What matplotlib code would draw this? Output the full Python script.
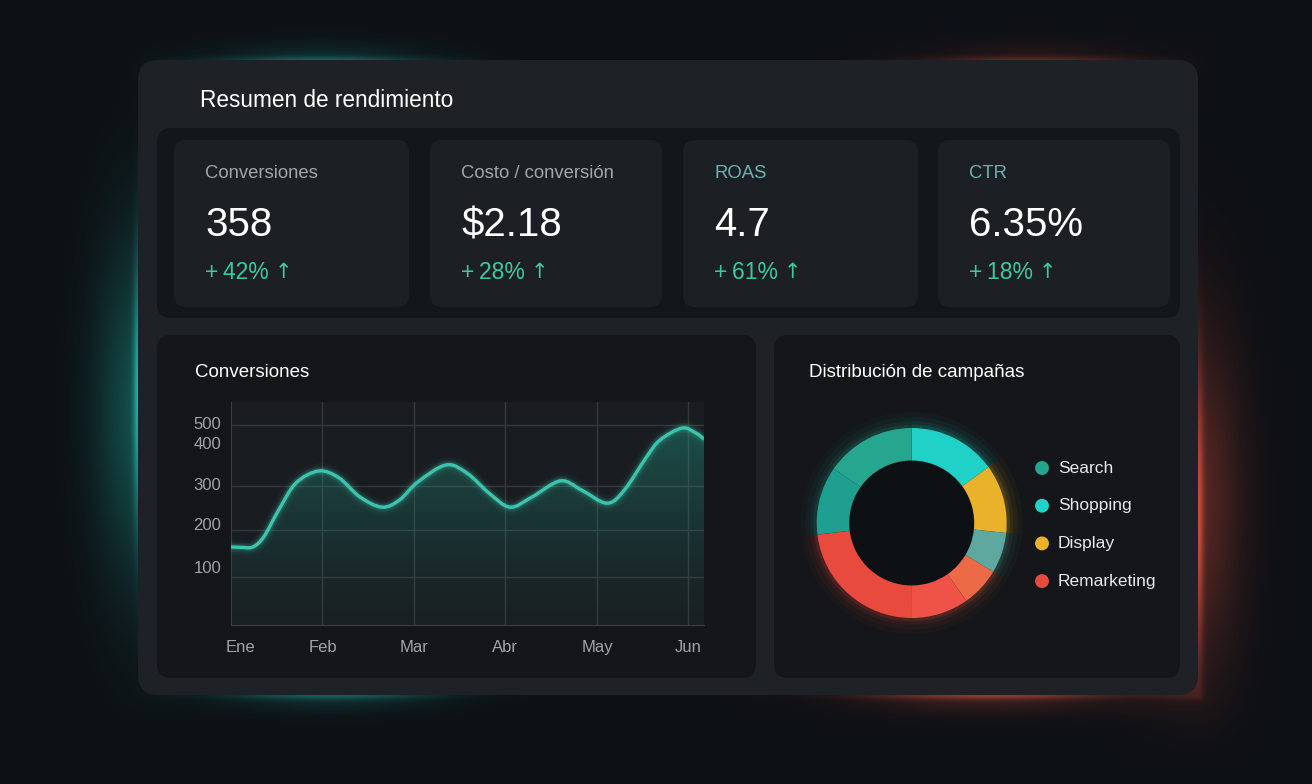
import numpy as np
import matplotlib
matplotlib.use("Agg")
import matplotlib.pyplot as plt
from matplotlib.patches import FancyBboxPatch, PathPatch
from matplotlib.path import Path
from matplotlib.transforms import ScaledTranslation

plt.rcParams['font.family'] = ['Liberation Sans', 'DejaVu Sans']

# ---- datos ----
kpi_labels = ['Conversiones', 'Costo / conversión', 'ROAS', 'CTR']
kpi_values = ['358', '$2.18', '4.7', '6.35%']
kpi_deltas = ['+\u200942%', '+\u200928%', '+\u200961%', '+\u200918%']

months = ['Ene', 'Feb', 'Mar', 'Abr', 'May', 'Jun']
# curva (posición en meses, conversiones)
conv_x = [0.00, 0.12, 0.24, 0.36, 0.52, 0.71, 0.96, 1.18, 1.41, 1.65, 1.84, 2.04,
          2.35, 2.58, 2.82, 3.05, 3.29, 3.60, 3.83, 4.11, 4.30, 4.54, 4.69, 4.93,
          5.08, 5.17]
conv_y = [164, 163, 164, 186, 245, 307, 335, 319, 275, 252, 268, 309,
          349, 330, 284, 252, 275, 312, 291, 261, 291, 367, 417, 483,
          456, 422]
y_ticks = [100, 200, 300, 400, 500]
y_grid = [100, 200, 300, 500]

campaigns = ['Search', 'Shopping', 'Display', 'Remarketing']
campaign_colors = ['#23a58f', '#1fd1c6', '#eab12b', '#e84b3e']
# segmentos del anillo, en sentido horario desde arriba (%)
seg_values = [15.0, 11.7, 6.9, 6.7, 9.7, 23.1, 11.7, 15.3]
seg_colors = ['#1fd1c6', '#eab12b', '#5ea8a0', '#ec6a45', '#ef5348', '#e84b3e', '#1e9f90', '#27a68f']

W, H = 1312, 784
fig = plt.figure(figsize=(W / 100, H / 100), dpi=100)
fig.patch.set_facecolor('#0d1014')

# ---- fondo con resplandor ----
bg = fig.add_axes([0, 0, 1, 1])
bg.set_xlim(0, W)
bg.set_ylim(H, 0)
bg.axis('off')

yy, xx = np.mgrid[0:H, 0:W].astype(float)
px0, py0, px1, py1 = 138, 60, 1198, 695
ddx = np.maximum(np.maximum(px0 - xx, xx - px1), 0)
ddy = np.maximum(np.maximum(py0 - yy, yy - py1), 0)
drect = np.hypot(ddx, ddy)


def glow(cx, sx, cy, sy, w, amp):
    return amp * np.exp(-(drect / w) ** 2) * np.exp(-((xx - cx) / sx) ** 2) \
        * np.exp(-((yy - cy) / sy) ** 2)


teal = (glow(138, 70, 410, 170, 55, 0.32) + glow(138, 40, 390, 130, 5, 0.55)
        + glow(320, 110, 60, 40, 22, 0.14) + glow(320, 100, 60, 20, 4, 0.30)
        + glow(330, 110, 695, 40, 18, 0.16) + glow(330, 100, 695, 20, 4, 0.25))
red = (glow(1198, 70, 500, 170, 55, 0.30) + glow(1198, 40, 520, 150, 5, 0.50)
       + glow(1030, 110, 60, 40, 22, 0.10) + glow(1030, 100, 60, 20, 4, 0.25)
       + glow(990, 130, 695, 40, 20, 0.20) + glow(990, 120, 695, 20, 4, 0.35))

base = np.array([13, 16, 20]) / 255.0
img = base + teal[..., None] * np.array([20, 190, 170]) / 255.0 \
    + red[..., None] * np.array([235, 75, 50]) / 255.0
img = np.clip(img, 0, 1)
bg.imshow(img, extent=[0, W, H, 0], aspect='auto', zorder=0)


def box(x0, y0, x1, y1, color, r, z=1):
    bg.add_patch(FancyBboxPatch((x0, y0), x1 - x0, y1 - y0,
                                boxstyle=f"round,pad=0,rounding_size={r}",
                                facecolor=color, edgecolor='none', zorder=z))


box(px0, py0, px1, py1, '#1e2125', 20, 1)
bg.text(200, 100, 'Resumen de rendimiento', color='white', fontsize=16.3,
        va='center', ha='left', zorder=5)

# ---- tarjetas KPI ----
box(157, 128, 1180, 318, '#14171a', 14, 2)
cards_x = [(174, 409), (430, 662), (683, 918), (938, 1170)]
label_colors = ['#a3a6aa', '#a3a6aa', '#6cb3b0', '#6cb3b0']
renderer = fig.canvas.get_renderer()
for i, (x0, x1) in enumerate(cards_x):
    box(x0, 140, x1, 307, '#1c1f23', 12, 3)
    tx = x0 + 31
    bg.text(tx, 173, kpi_labels[i], color=label_colors[i], fontsize=13.3,
            va='center', zorder=5)
    bg.text(tx, 225, kpi_values[i], color='white', fontsize=29,
            va='center', zorder=5)
    t = bg.text(tx, 272, kpi_deltas[i], color='#3cc9a0', fontsize=16.5,
                va='center', zorder=5)
    right = t.get_window_extent(renderer).x1
    bg.text(right + 6, 272, '↑', color='#3cc9a0', fontsize=15, family='DejaVu Sans',
            va='center', zorder=5)

# ---- paneles inferiores ----
box(157, 335, 756, 678, '#141619', 14, 2)
box(774, 335, 1180, 678, '#141619', 14, 2)
bg.text(195, 372, 'Conversiones', color='white', fontsize=13.5, va='center', zorder=5)
bg.text(809, 372, 'Distribución de campañas', color='white', fontsize=13.5,
        va='center', zorder=5)

# ---- gráfico de líneas ----
ax = fig.add_axes([231 / W, 1 - 625 / H, (704 - 231) / W, (625 - 402) / H])
ax.set_facecolor('#191c20')

yv = [0, 100, 200, 300, 400, 500, 600]
yp = [0, 48, 95, 139, 182, 200, 223]
ax.set_yscale('function', functions=(lambda v: np.interp(v, yv, yp),
                                      lambda p: np.interp(p, yp, yv)))
ax.set_xlim(0, 5.17)
ax.set_ylim(0, 600)

grid_c = '#34383c'
for g in y_grid:
    ax.axhline(g, color=grid_c, lw=1, zorder=1)
for m in range(1, len(months)):
    ax.axvline(m, color=grid_c, lw=1, zorder=1)

# curva suave (Catmull-Rom -> Bezier) en el espacio de la escala
P = ax.transScale.transform(np.column_stack([conv_x, conv_y]))
n = len(P)
verts = [P[0]]
codes = [Path.MOVETO]
for i in range(n - 1):
    p0 = P[max(i - 1, 0)]
    p1, p2 = P[i], P[i + 1]
    p3 = P[min(i + 2, n - 1)]
    verts += [p1 + (p2 - p0) / 6, p2 - (p3 - p1) / 6, p2]
    codes += [Path.CURVE4] * 3
line_path = Path(verts, codes)
y0s = ax.transScale.transform([[0, 0]])[0][1]
fill_path = Path(verts + [[P[-1][0], y0s], [P[0][0], y0s], P[0]],
                 codes + [Path.LINETO, Path.LINETO, Path.CLOSEPOLY])
tr = ax.transLimits + ax.transAxes

grad = np.linspace(1, 0, 256)[:, None]
rgba = np.zeros((256, 1, 4))
rgba[..., 0], rgba[..., 1], rgba[..., 2] = 0.13, 0.62, 0.55
rgba[..., 3] = 0.03 + 0.42 * grad ** 1.3
im = ax.imshow(rgba, extent=[0, 1, 0, 1], transform=ax.transAxes,
               aspect='auto', zorder=2)
im.set_clip_path(fill_path, tr)

for lw, a in [(11, 0.05), (7, 0.10), (4.5, 0.18)]:
    ax.add_patch(PathPatch(line_path, transform=tr, fill=False, edgecolor='#3ec4ac',
                           lw=lw, alpha=a, capstyle='round', zorder=3))
ax.add_patch(PathPatch(line_path, transform=tr, fill=False, edgecolor='#3ec4ac',
                       lw=2.4, zorder=4))

ax.set_xlim(0, 5.17)
ax.set_ylim(0, 600)
ax.set_xticks(range(len(months)))
ax.set_xticklabels(months)
ax.set_yticks(y_ticks)
ax.set_yticklabels([str(t) for t in y_ticks])
ax.tick_params(colors='#a0a4a8', labelsize=12, length=0)
ax.tick_params(axis='x', pad=11)
ax.tick_params(axis='y', pad=7)
for s in ['top', 'right']:
    ax.spines[s].set_visible(False)
for s in ['left', 'bottom']:
    ax.spines[s].set_color('#3b3f44')

lbl = ax.get_xticklabels()[0]
lbl.set_transform(lbl.get_transform() + ScaledTranslation(0.09, 0, fig.dpi_scale_trans))
for lbl, dy in zip(ax.get_yticklabels(), [10, 6, 2, 0, 2]):
    lbl.set_transform(lbl.get_transform() + ScaledTranslation(0, dy / 100, fig.dpi_scale_trans))

# ---- anillo ----
cx, cy, R = 911.7, 523, 95
half = 115
dax = fig.add_axes([(cx - half) / W, 1 - (cy + half) / H, 2 * half / W, 2 * half / H])
dax.axis('off')
hole = 1 - 32.5 / R
for r, a in [(1.17, 0.035), (1.12, 0.05), (1.07, 0.08), (1.035, 0.13)]:
    dax.pie(seg_values, radius=r, colors=seg_colors, startangle=90,
            counterclock=False, wedgeprops=dict(width=r - 0.97, alpha=a, edgecolor='none'))
dax.add_patch(plt.Circle((0, 0), hole + 0.01, color='#0e1114', zorder=0))
dax.pie(seg_values, radius=1, colors=seg_colors, startangle=90, counterclock=False,
        wedgeprops=dict(width=32.5 / R, edgecolor='none'))
lim = half / R
dax.set_xlim(-lim, lim)
dax.set_ylim(-lim, lim)
dax.set_aspect('equal')

# leyenda
for i, name in enumerate(campaigns):
    ly = 468 + i * 37.7
    bg.scatter([1042], [ly], s=100, color=campaign_colors[i], edgecolors='none', zorder=5)
    bg.text(1058, ly, name, color='#e6e7e8', fontsize=12.5, va='center', zorder=5)

fig.savefig('out.png', dpi=100, facecolor=fig.get_facecolor())
